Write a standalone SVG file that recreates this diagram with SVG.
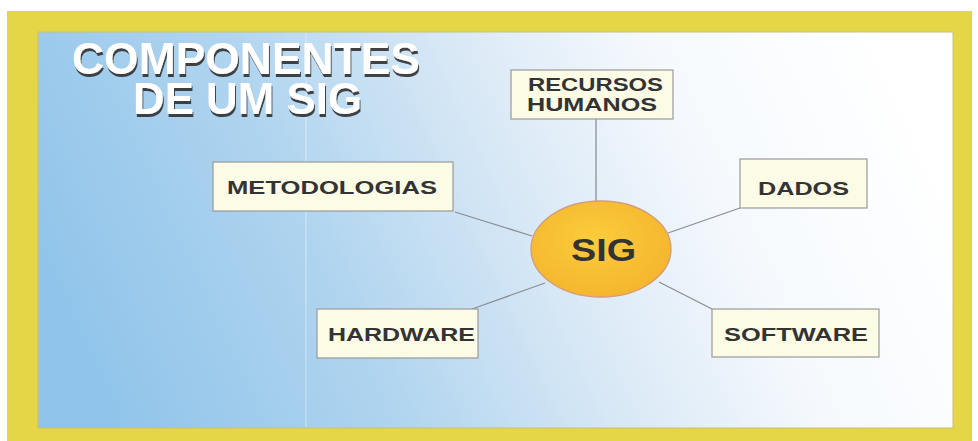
<svg xmlns="http://www.w3.org/2000/svg" width="978" height="441" viewBox="0 0 978 441">
<defs>
<linearGradient id="bg" x1="0" y1="0.6" x2="1" y2="0.4">
<stop offset="0" stop-color="#90c4ea"/>
<stop offset="0.3" stop-color="#afd4ef"/>
<stop offset="0.55" stop-color="#dae9f6"/>
<stop offset="0.75" stop-color="#f5f9fd"/>
<stop offset="1" stop-color="#ffffff"/>
</linearGradient>
<radialGradient id="sun" cx="0.45" cy="0.4" r="0.6">
<stop offset="0" stop-color="#fccc3c"/>
<stop offset="1" stop-color="#f4b62e"/>
</radialGradient>
<filter id="shadow" x="-5%" y="-20%" width="110%" height="150%">
<feDropShadow dx="1" dy="3" stdDeviation="0.6" flood-color="#333333" flood-opacity="0.9"/>
</filter>
<style>
.box{fill:#fbfbe6;stroke:#9a9a9a;stroke-width:1.2}
.lbl{font-family:"Liberation Sans",Arial,sans-serif;font-weight:bold;font-size:19px;fill:#333333}
.ttl{font-family:"Liberation Sans",Arial,sans-serif;font-weight:bold;font-size:44px;fill:#ffffff;filter:url(#shadow)}
.conn line{stroke:#8a8f96;stroke-width:1.3}
</style>
</defs>
<rect x="0" y="0" width="978" height="441" fill="#ffffff"/>
<rect x="7" y="11" width="965" height="430" fill="#e4d646"/>
<rect x="38" y="32" width="915" height="396" fill="url(#bg)" stroke="#c9c070" stroke-width="1"/>
<line x1="306" y1="33" x2="306" y2="427" stroke="#ffffff" stroke-opacity="0.45" stroke-width="1"/>
<g id="title">
<text class="ttl" x="72" y="74" textLength="348" lengthAdjust="spacingAndGlyphs">COMPONENTES</text>
<text class="ttl" x="133" y="114" textLength="229" lengthAdjust="spacingAndGlyphs">DE UM SIG</text>
</g>
<g id="connectors" class="conn">
<line x1="596" y1="119" x2="596" y2="201"/>
<line x1="455" y1="212" x2="532" y2="236"/>
<line x1="740" y1="208" x2="668" y2="233"/>
<line x1="472" y1="309" x2="545" y2="283"/>
<line x1="659" y1="282" x2="712" y2="309"/>
</g>
<g id="recursos-humanos">
<rect class="box" x="511" y="70" width="162" height="49"/>
<text class="lbl" x="528" y="91" textLength="135" lengthAdjust="spacingAndGlyphs">RECURSOS</text>
<text class="lbl" x="527" y="111" textLength="130" lengthAdjust="spacingAndGlyphs">HUMANOS</text>
</g>
<g id="metodologias">
<rect class="box" x="213" y="162" width="240" height="49"/>
<text class="lbl" x="227" y="194" textLength="210" lengthAdjust="spacingAndGlyphs">METODOLOGIAS</text>
</g>
<g id="dados">
<rect class="box" x="740" y="159" width="127" height="49"/>
<text class="lbl" x="758" y="195" textLength="91" lengthAdjust="spacingAndGlyphs">DADOS</text>
</g>
<g id="sig">
<ellipse cx="601" cy="249" rx="70" ry="48" fill="url(#sun)" stroke="#d49a7c" stroke-width="1.3"/>
<text x="571" y="261" font-family="Liberation Sans,Arial,sans-serif" font-weight="bold" font-size="31" fill="#333333" textLength="65" lengthAdjust="spacingAndGlyphs">SIG</text>
</g>
<g id="hardware">
<rect class="box" x="317" y="309" width="161" height="49"/>
<text class="lbl" x="328" y="341" textLength="147" lengthAdjust="spacingAndGlyphs">HARDWARE</text>
</g>
<g id="software">
<rect class="box" x="712" y="309" width="167" height="48"/>
<text class="lbl" x="724" y="341" textLength="144" lengthAdjust="spacingAndGlyphs">SOFTWARE</text>
</g>
</svg>
